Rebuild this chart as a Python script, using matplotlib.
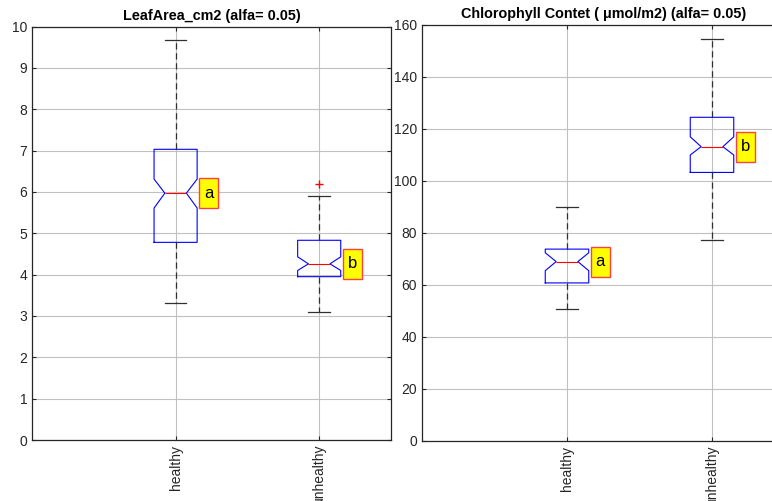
import matplotlib
matplotlib.use('Agg')
import matplotlib.pyplot as plt

plt.rcParams['font.family'] = ['Liberation Sans', 'DejaVu Sans']

categories = ['healthy', 'unhealthy']

# LeafArea_cm2
leaf_med = [5.97, 4.26]
leaf_q1 = [4.78, 3.95]
leaf_q3 = [7.03, 4.83]
leaf_lo = [3.32, 3.10]
leaf_hi = [9.67, 5.91]
leaf_ci_lo = [5.61, 4.10]
leaf_ci_hi = [6.31, 4.43]
leaf_fliers = [[], [6.18]]
leaf_letters = ['a', 'b']

# Chlorophyll content
chl_med = [69.0, 113.2]
chl_q1 = [60.8, 103.3]
chl_q3 = [73.8, 124.5]
chl_lo = [50.8, 77.2]
chl_hi = [90.1, 154.7]
chl_ci_lo = [65.5, 110.0]
chl_ci_hi = [72.4, 117.0]
chl_fliers = [[], []]
chl_letters = ['a', 'b']

axcol = '#262626'


def make_stats(med, q1, q3, lo, hi, cilo, cihi, fliers):
    stats = []
    for i in range(len(categories)):
        stats.append(dict(med=med[i], q1=q1[i], q3=q3[i], whislo=lo[i], whishi=hi[i],
                          cilo=cilo[i], cihi=cihi[i], fliers=fliers[i], label=categories[i]))
    return stats


def draw(ax, stats, letters, title, ylim, yticks):
    ax.bxp(stats, positions=[1, 2], widths=0.3, shownotches=True,
           boxprops=dict(color='blue', linewidth=0.8),
           medianprops=dict(color='red', linewidth=0.8),
           whiskerprops=dict(color='#303030', linewidth=0.9, linestyle=(0, (5, 3))),
           capprops=dict(color='#303030', linewidth=0.9),
           flierprops=dict(marker='+', markeredgecolor='red', markersize=6, linestyle='none'))
    for i, s in enumerate(stats):
        ax.text(i + 1 + 0.23, s['med'], letters[i], ha='center', va='center', fontsize=12,
                bbox=dict(boxstyle='square,pad=0.28', mutation_aspect=1.6,
                          facecolor='yellow', edgecolor='#ff4040', linewidth=1))
    ax.set_xlim(0, 2.5)
    ax.set_ylim(*ylim)
    ax.set_yticks(yticks)
    ax.set_xticks([1, 2])
    ax.set_xticklabels(categories, rotation=90)
    ax.grid(True, color='#c0c0c0', linewidth=0.8)
    ax.set_axisbelow(True)
    ax.tick_params(direction='in', top=True, right=True, length=3, colors=axcol, labelsize=10)
    for sp in ax.spines.values():
        sp.set_color(axcol)
        sp.set_linewidth(0.9)
    ax.set_title(title, fontsize=10.4, fontweight='bold', color='black', pad=5)


fig = plt.figure(figsize=(7.72, 5.01), dpi=100)
ax1 = fig.add_axes([32 / 772, 61 / 501, 359 / 772, 413.5 / 501])
ax2 = fig.add_axes([422 / 772, 60 / 501, 362.5 / 772, 416 / 501])

draw(ax1, make_stats(leaf_med, leaf_q1, leaf_q3, leaf_lo, leaf_hi, leaf_ci_lo, leaf_ci_hi, leaf_fliers),
     leaf_letters, 'LeafArea_cm2 (alfa= 0.05)', (0, 10), range(0, 11))
draw(ax2, make_stats(chl_med, chl_q1, chl_q3, chl_lo, chl_hi, chl_ci_lo, chl_ci_hi, chl_fliers),
     chl_letters, 'Chlorophyll Contet ( μmol/m2) (alfa= 0.05)', (0, 160), range(0, 161, 20))

fig.savefig('out.png', dpi=100)
